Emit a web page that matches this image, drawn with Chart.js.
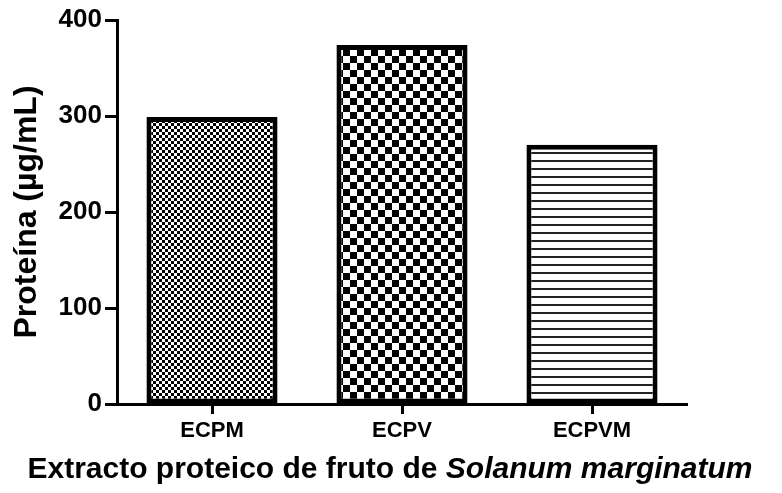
<!DOCTYPE html>
<html>
<head>
<meta charset="utf-8">
<script src="https://cdn.jsdelivr.net/npm/chart.js@4"></script>
<style>
  body { margin: 0; background: #fff; }
  #wrap { width: 782px; height: 493px; }
</style>
</head>
<body>
<div id="wrap"><canvas id="myChart"></canvas></div>
<script>
const categories = ['ECPM', 'ECPV', 'ECPVM'];
const proteinValues = [299, 374, 270];
const yTicks = [0, 100, 200, 300, 400];
const FONT = '"Liberation Sans", Arial, sans-serif';

// fill patterns like the original bars
function checkerPattern(cell) {
    const c = document.createElement('canvas');
    c.width = c.height = cell * 2;
    const ctx = c.getContext('2d');
    ctx.fillStyle = '#fff';
    ctx.fillRect(0, 0, cell * 2, cell * 2);
    ctx.fillStyle = '#000';
    ctx.fillRect(0, 0, cell, cell);
    ctx.fillRect(cell, cell, cell, cell);
    return ctx.createPattern(c, 'repeat');
}

function linePattern(period, thick) {
    const c = document.createElement('canvas');
    c.width = 4;
    c.height = period;
    const ctx = c.getContext('2d');
    ctx.fillStyle = '#fff';
    ctx.fillRect(0, 0, 4, period);
    ctx.fillStyle = '#222';
    ctx.fillRect(0, 0, 4, thick);
    return ctx.createPattern(c, 'repeat');
}

const fills = [checkerPattern(3), checkerPattern(7), linePattern(8, 2)];

// x title with italic species name
const bottomTitle = {
    id: 'bottomTitle',
    afterDraw(chart) {
        const ctx = chart.ctx;
        const part1 = 'Extracto proteico de fruto de ';
        const part2 = 'Solanum marginatum';
        ctx.save();
        ctx.fillStyle = '#000';
        ctx.textBaseline = 'middle';
        ctx.font = 'bold 30px ' + FONT;
        const w1 = ctx.measureText(part1).width;
        ctx.font = 'italic bold 30px ' + FONT;
        const w2 = ctx.measureText(part2).width;
        const x0 = 390 - (w1 + w2) / 2;
        ctx.font = 'bold 30px ' + FONT;
        ctx.fillText(part1, x0, 470);
        ctx.font = 'italic bold 30px ' + FONT;
        ctx.fillText(part2, x0 + w1, 470);
        ctx.restore();
    }
};

Chart.defaults.color = '#000';
Chart.defaults.font.family = FONT;

new Chart(document.getElementById('myChart'), {
    type: 'bar',
    data: {
        labels: categories,
        datasets: [{
            data: proteinValues,
            backgroundColor: fills,
            borderColor: '#000',
            borderWidth: 5,
            borderSkipped: false,
            barPercentage: 0.69,
            categoryPercentage: 1.0
        }]
    },
    options: {
        animation: false,
        responsive: true,
        maintainAspectRatio: false,
        layout: { padding: { top: 20, right: 95, bottom: 42, left: 0 } },
        plugins: {
            legend: { display: false },
            tooltip: { enabled: false }
        },
        scales: {
            x: {
                grid: {
                    offset: false,
                    drawOnChartArea: false,
                    tickLength: 10,
                    tickWidth: 3,
                    tickColor: '#000'
                },
                border: { display: true, width: 3, color: '#000' },
                ticks: { font: { size: 22, weight: 'bold' }, padding: 4 },
                afterFit(scale) { scale.height = 47; }
            },
            y: {
                min: 0,
                max: 400,
                afterBuildTicks(scale) {
                    scale.ticks = yTicks.map(v => ({ value: v }));
                },
                grid: {
                    drawOnChartArea: false,
                    tickLength: 12,
                    tickWidth: 3,
                    tickColor: '#000'
                },
                border: { display: true, width: 3, color: '#000' },
                ticks: { font: { size: 26, weight: 'bold' }, padding: 3 },
                title: {
                    display: true,
                    text: 'Proteína (µg/mL)',
                    font: { size: 32, weight: 'bold' },
                    padding: { top: 8, bottom: 0 }
                },
                afterFit(scale) { scale.width = 117; }
            }
        }
    },
    plugins: [bottomTitle]
});
</script>
</body>
</html>
